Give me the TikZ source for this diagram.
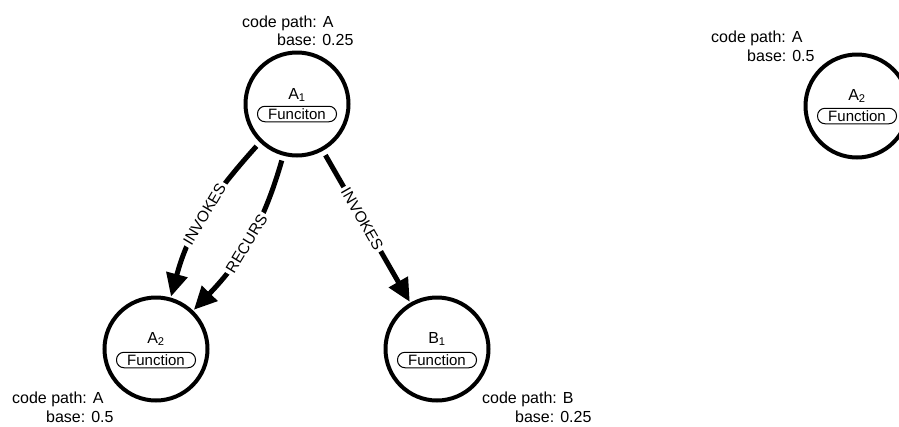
\documentclass[tikz,border=0pt]{standalone}
\usepackage{fontspec}
\setmainfont{Liberation Sans}
\usetikzlibrary{arrows.meta}
\begin{document}
\begin{tikzpicture}[x=1pt,y=-1pt,
  fn/.style={circle, draw, line width=4pt, minimum size=103pt, inner sep=0pt},
  fnlabel/.style={font=\fontsize{16}{18}\selectfont, inner sep=0pt},
  pill/.style={draw, line width=1pt, rounded corners=7.5pt, minimum width=79pt,
    minimum height=15.5pt, inner sep=0pt, font=\fontsize{15}{16}\selectfont},
  info/.style={font=\fontsize{16}{18}\selectfont, anchor=base west, inner sep=0pt},
  rel/.style={line width=5pt, -{Triangle[length=23pt,width=21pt]}, shorten <=5pt, shorten >=1pt},
  rellabel/.style={sloped, fill=white, inner sep=2.5pt, font=\fontsize{15.5}{16}\selectfont}]
\useasboundingbox (0,0) rectangle (899,426);
\clip (0,0) rectangle (899,426);

% circles
\node[fn] (a1) at (297,104) {};
\node[fn] (a2) at (156,349) {};
\node[fn] (b1) at (437,349) {};
\node[fn] (a2r) at (857,106) {};

% inner labels
\node[fnlabel] (a1t) at (297,95) {A\textsubscript{1}};
\node[pill] (a1p) at (297,114) {Funciton};
\node[fnlabel] (a2t) at (156,339) {A\textsubscript{2}};
\node[pill] (a2p) at (156,360) {Function};
\node[fnlabel] (b1t) at (437,339) {B\textsubscript{1}};
\node[pill] (b1p) at (437,360) {Function};
\node[fnlabel] (a2rt) at (857,96) {A\textsubscript{2}};
\node[pill] (a2rp) at (857,116) {Function};

% info texts
\node[info] (i1a) at (242,27) {code path: A};
\node[info] (i1b) at (277,45) {base: 0.25};
\node[info] (i2a) at (12,403) {code path: A};
\node[info] (i2b) at (46,422) {base: 0.5};
\node[info] (i3a) at (482,403) {code path: B};
\node[info] (i3b) at (515,422) {base: 0.25};
\node[info] (i4a) at (711,42) {code path: A};
\node[info] (i4b) at (747,61) {base: 0.5};

% edges
\draw[rel] (a1.226) to[out=228,in=75] node[rellabel, pos=0.5] {INVOKES} (a2.74);
\draw[rel] (a1.255) to[out=254,in=46] node[rellabel, pos=0.53] {RECURS} (a2.46);
\draw[rel] (a1.299) -- node[rellabel, pos=0.45] {INVOKES} (b1.120);
\end{tikzpicture}
\end{document}
